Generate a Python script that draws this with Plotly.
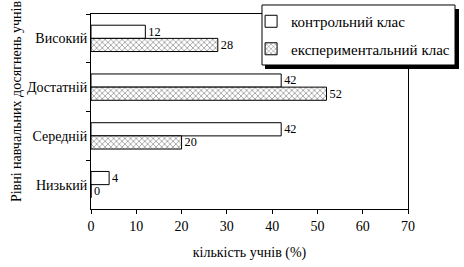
import plotly.graph_objects as go

categories = ["Високий", "Достатній", "Середній", "Низький"]
control = [12, 42, 42, 4]
experimental = [28, 52, 20, 0]
x_ticks = [0, 10, 20, 30, 40, 50, 60, 70]

FONT = "Liberation Serif"

fig = go.Figure()
fig.add_trace(go.Bar(
    y=categories, x=control, orientation="h", name="контрольний клас",
    marker=dict(color="white", line=dict(color="black", width=1)),
    text=[str(v) for v in control], textposition="outside",
    textfont=dict(family=FONT, size=14, color="black"), cliponaxis=False,
    legendgroup="a",
))
fig.add_trace(go.Bar(
    y=categories, x=experimental, orientation="h", name="експериментальний клас",
    marker=dict(color="white", line=dict(color="black", width=1),
                pattern=dict(shape="x", fgcolor="black", bgcolor="white", size=4, solidity=0.3)),
    text=[str(v) for v in experimental], textposition="outside",
    textfont=dict(family=FONT, size=14, color="black"), cliponaxis=False,
    legendgroup="b",
))

# legend frame with shadow
fig.add_shape(type="rect", xref="paper", yref="paper",
              x0=0.5489, x1=1.1609, y0=0.7179, y1=1.0256,
              fillcolor="black", line=dict(width=0), layer="above")
fig.add_shape(type="rect", xref="paper", yref="paper",
              x0=0.5394, x1=1.1483, y0=0.7385, y1=1.0462,
              fillcolor="white", line=dict(color="black", width=1), layer="above")

fig.update_layout(
    width=464, height=267,
    margin=dict(l=91, r=56, t=14, b=58, autoexpand=False),
    paper_bgcolor="white", plot_bgcolor="white",
    font=dict(family=FONT, size=14, color="black"),
    barmode="group", bargap=0.46, bargroupgap=0,
    showlegend=True,
    legend=dict(x=0.505, y=1.046, xanchor="left", yanchor="top",
                bgcolor="rgba(0,0,0,0)", borderwidth=0,
                font=dict(family=FONT, size=15, color="black"),
                tracegroupgap=5, itemwidth=30),
    xaxis=dict(range=[0, 70], tickvals=x_ticks, showgrid=False, zeroline=False,
               showline=True, linecolor="black", linewidth=1, mirror=True,
               ticks="outside", ticklen=4, tickcolor="black",
               tickfont=dict(family=FONT, size=14, color="black"),
               title=dict(text="кількість учнів (%)", font=dict(family=FONT, size=14, color="black"), standoff=14)),
    yaxis=dict(categoryorder="array", categoryarray=categories, autorange="reversed",
               showgrid=False, zeroline=False, showline=True, linecolor="black", linewidth=1,
               mirror=True, ticks="outside", ticklen=4, tickcolor="black", tickson="boundaries",
               tickfont=dict(family=FONT, size=14, color="black")),
)
fig.add_annotation(text="Рівні навчальних досягнень учнів", textangle=-90,
                   xref="paper", yref="paper", x=-0.233, y=0.554, xanchor="center", yanchor="middle",
                   showarrow=False, font=dict(family=FONT, size=14, color="black"))
fig.write_html("out.html")
